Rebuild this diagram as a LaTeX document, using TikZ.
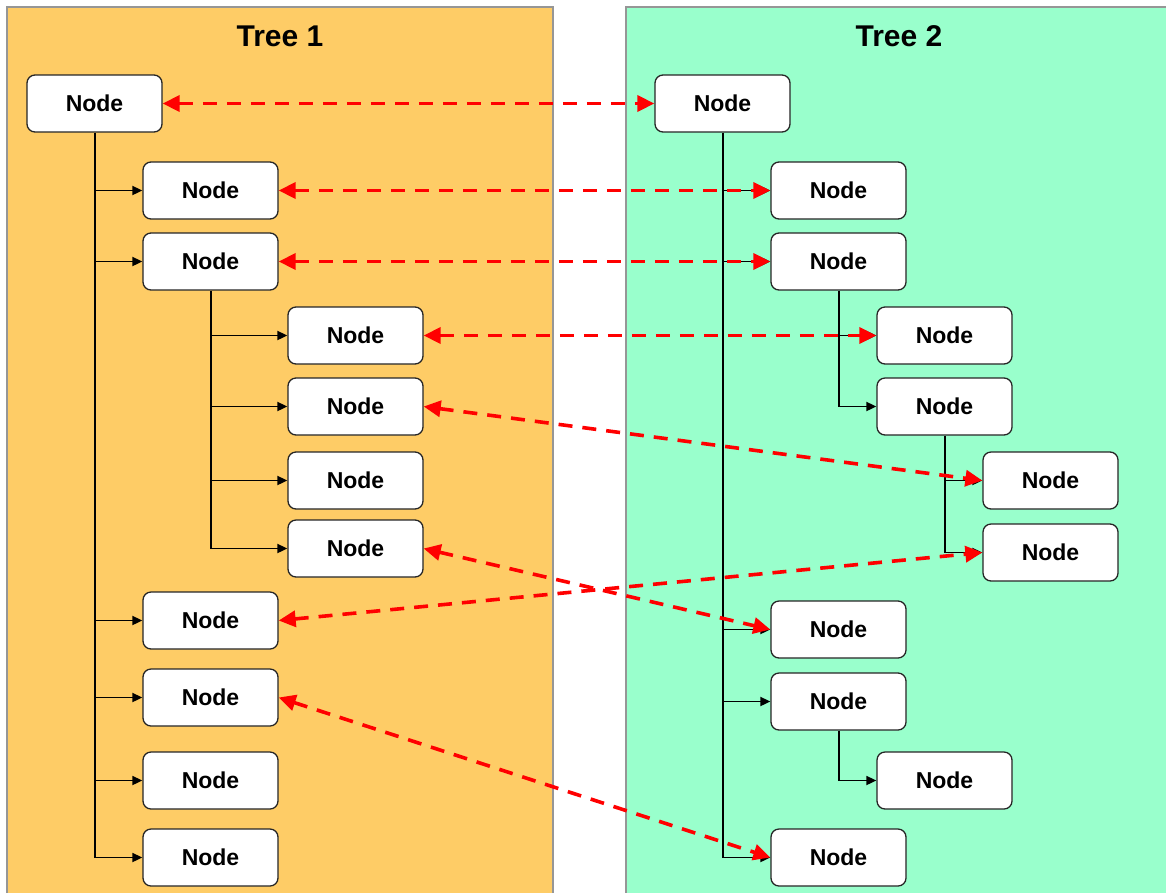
\documentclass[tikz,border=0pt]{standalone}
\usepackage{fontspec}
\setmainfont{Liberation Sans}
\usetikzlibrary{arrows.meta}
\definecolor{orangebg}{RGB}{254,204,102}
\definecolor{greenbg}{RGB}{153,255,204}
\definecolor{panelline}{RGB}{150,150,150}
\tikzset{
  panel/.style={draw=panelline, line width=1.5pt},
  nb/.style={draw=black!85, fill=white, rounded corners=8pt, line width=1.3pt,
    minimum width=135pt, minimum height=57pt, inner sep=0pt,
    font=\bfseries\fontsize{23}{27}\selectfont},
  ttl/.style={font=\bfseries\fontsize{30}{34}\selectfont},
  tl/.style={draw=black, line width=1.8pt, -{Triangle[length=10pt,width=9pt]}},
  tt/.style={draw=black, line width=2pt},
  ra/.style={draw=red, line width=3.6pt, dash pattern=on 14pt off 10pt,
    {Triangle[length=17pt,width=16pt]}-{Triangle[length=17pt,width=16pt]}}
}
\begin{document}
\begin{tikzpicture}[x=1pt,y=-1pt]
\useasboundingbox (0,0) rectangle (1166,892);
% panels
\path[panel, fill=orangebg] (7,7) rectangle (553,900);
\path[panel, fill=greenbg] (626,7) rectangle (1175,900);
\node[ttl] (t1) at (280,36) {Tree 1};
\node[ttl] (t2) at (899,36) {Tree 2};
% Tree 1 nodes
\node[nb] (a) at (94.5,103.5) {Node};
\node[nb] (b1) at (210.5,190.5) {Node};
\node[nb] (b2) at (210.5,261.5) {Node};
\node[nb] (c1) at (355.5,335.5) {Node};
\node[nb] (c2) at (355.5,406.5) {Node};
\node[nb] (c3) at (355.5,480.5) {Node};
\node[nb] (c4) at (355.5,548.5) {Node};
\node[nb] (b3) at (210.5,620.5) {Node};
\node[nb] (b4) at (210.5,697.5) {Node};
\node[nb] (b5) at (210.5,780.5) {Node};
\node[nb] (b6) at (210.5,857.5) {Node};
% Tree 2 nodes
\node[nb] (p) at (722.5,103.5) {Node};
\node[nb] (q1) at (838.5,190.5) {Node};
\node[nb] (q2) at (838.5,261.5) {Node};
\node[nb] (r1) at (944.5,335.5) {Node};
\node[nb] (r2) at (944.5,406.5) {Node};
\node[nb] (s1) at (1050.5,480.5) {Node};
\node[nb] (s2) at (1050.5,552.5) {Node};
\node[nb] (q3) at (838.5,629.5) {Node};
\node[nb] (q4) at (838.5,701.5) {Node};
\node[nb] (r3) at (944.5,780.5) {Node};
\node[nb] (q5) at (838.5,857.5) {Node};
% Tree 1 connectors
\draw[tt] (a.south) -- (a.south |- b6.west);
\foreach \n in {b1,b2,b3,b4,b5,b6} \draw[tl] (a.south |- \n.west) -- (\n.west);
\draw[tt] (b2.south) -- (b2.south |- c4.west);
\foreach \n in {c1,c2,c3,c4} \draw[tl] (b2.south |- \n.west) -- (\n.west);
% Tree 2 connectors
\draw[tt] (p.south) -- (p.south |- q5.west);
\foreach \n in {q1,q2,q3,q4,q5} \draw[tl] (p.south |- \n.west) -- (\n.west);
\draw[tt] (q2.south) -- (q2.south |- r2.west);
\foreach \n in {r1,r2} \draw[tl] (q2.south |- \n.west) -- (\n.west);
\draw[tt] (r2.south) -- (r2.south |- s2.west);
\foreach \n in {s1,s2} \draw[tl] (r2.south |- \n.west) -- (\n.west);
\draw[tt] (q4.south) -- (q4.south |- r3.west);
\draw[tl] (q4.south |- r3.west) -- (r3.west);
% correspondences
\draw[ra] (a.east) -- (p.west);
\draw[ra] (b1.east) -- (q1.west);
\draw[ra] (b2.east) -- (q2.west);
\draw[ra] (c1.east) -- (r1.west);
\draw[ra] (c2.east) -- (s1.west);
\draw[ra] (c4.east) -- (q3.west);
\draw[ra] (b3.east) -- (s2.west);
\draw[ra] (b4.east) -- (q5.west);
\end{tikzpicture}
\end{document}
